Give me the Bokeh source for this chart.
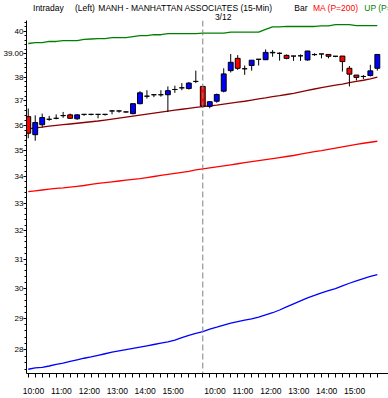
from bokeh.plotting import figure
from bokeh.layouts import column
from bokeh.models import FixedTicker, Span, Range1d, ColumnDataSource, BasicTickFormatter
from bokeh.core.properties import value
from bokeh.embed import file_html
from bokeh.resources import INLINE

# ---- data (15-min bars, two sessions) ----
opens = [36.36, 35.63, 36.03, 36.25, 36.29, 36.40, 36.43, 36.27, 36.45, 36.45, 36.45, 36.45, 36.59,
         36.59, 36.55, 36.48, 36.89, 37.20, 37.26, 37.26, 37.26, 37.48, 37.55, 37.52, 37.82, 37.61,
         36.78, 36.99, 37.41, 38.28, 38.81, 38.36, 38.50, 38.77, 38.75, 39.05, 39.03, 38.94, 38.91,
         38.92, 38.74, 38.97, 39.00, 38.98, 38.90, 38.91, 38.38, 38.09, 38.03, 38.07, 38.38]
highs = [36.69, 36.41, 36.48, 36.39, 36.45, 36.55, 36.48, 36.45, 36.45, 36.47, 36.45, 36.46, 36.62,
         36.60, 36.56, 36.89, 37.41, 37.45, 37.27, 37.45, 37.61, 37.64, 37.75, 37.79, 38.28, 37.63,
         36.99, 37.31, 38.38, 39.00, 38.95, 38.50, 38.73, 38.77, 39.20, 39.17, 39.07, 38.98, 38.91,
         38.98, 39.14, 39.03, 39.00, 38.98, 38.90, 38.91, 38.48, 38.09, 38.09, 38.53, 38.98]
lows = [35.49, 35.39, 35.92, 36.19, 36.25, 36.31, 36.28, 36.23, 36.39, 36.41, 36.29, 36.40, 36.45,
        36.52, 36.52, 36.45, 36.86, 37.10, 37.16, 37.18, 36.55, 37.34, 37.45, 37.48, 37.75, 36.73,
        36.70, 36.93, 37.36, 38.20, 38.31, 38.10, 38.28, 38.50, 38.75, 38.88, 38.71, 38.77, 38.70,
        38.70, 38.71, 38.92, 38.81, 38.81, 38.86, 38.24, 37.61, 37.86, 37.92, 38.03, 38.28]
closes = [35.69, 36.12, 36.32, 36.25, 36.29, 36.40, 36.29, 36.43, 36.45, 36.45, 36.45, 36.45, 36.59,
          36.59, 36.55, 36.89, 37.34, 37.20, 37.26, 37.26, 37.43, 37.48, 37.55, 37.75, 37.82, 36.79,
          36.97, 37.27, 38.14, 38.64, 38.38, 38.36, 38.73, 38.77, 39.07, 39.07, 39.03, 38.81, 38.91,
          38.92, 39.13, 38.98, 39.00, 38.90, 38.90, 38.67, 38.13, 37.99, 38.03, 38.27, 38.98]

ma_short = [35.86, 35.90, 35.93, 35.97, 36.00, 36.03, 36.06, 36.09, 36.12, 36.15, 36.18, 36.22, 36.26,
            36.30, 36.34, 36.38, 36.42, 36.46, 36.50, 36.54, 36.58, 36.62, 36.66, 36.70, 36.74, 36.77,
            36.80, 36.83, 36.87, 36.91, 36.95, 36.99, 37.04, 37.09, 37.13, 37.18, 37.22, 37.27, 37.32,
            37.38, 37.44, 37.50, 37.56, 37.61, 37.66, 37.71, 37.77, 37.82, 37.87, 37.93, 38.00]
up_band = [39.46, 39.50, 39.50, 39.55, 39.55, 39.59, 39.59, 39.59, 39.64, 39.66, 39.68, 39.68, 39.72,
           39.72, 39.72, 39.77, 39.81, 39.81, 39.85, 39.85, 39.90, 39.90, 39.90, 39.90, 39.90, 39.92,
           39.92, 39.92, 39.92, 39.97, 39.97, 39.97, 39.97, 39.97, 40.09, 40.20, 40.20, 40.22, 40.22,
           40.22, 40.22, 40.22, 40.25, 40.25, 40.30, 40.30, 40.30, 40.26, 40.26, 40.26, 40.26]
ma200 = [33.43, 33.46, 33.49, 33.52, 33.55, 33.57, 33.60, 33.63, 33.66, 33.70, 33.74, 33.77, 33.80,
         33.83, 33.86, 33.89, 33.92, 33.96, 34.00, 34.04, 34.08, 34.12, 34.16, 34.20, 34.25, 34.29,
         34.33, 34.37, 34.41, 34.45, 34.49, 34.53, 34.57, 34.61, 34.65, 34.69, 34.73, 34.77, 34.81,
         34.86, 34.91, 34.96, 35.00, 35.05, 35.10, 35.15, 35.20, 35.25, 35.29, 35.33, 35.37]
low_band = [27.40, 27.44, 27.46, 27.50, 27.55, 27.59, 27.64, 27.69, 27.74, 27.78, 27.83, 27.88, 27.93,
            27.97, 28.01, 28.05, 28.09, 28.13, 28.17, 28.21, 28.25, 28.31, 28.39, 28.46, 28.52, 28.58,
            28.66, 28.72, 28.79, 28.85, 28.90, 28.95, 28.99, 29.05, 29.12, 29.19, 29.28, 29.38, 29.48,
            29.58, 29.68, 29.76, 29.85, 29.92, 29.99, 30.08, 30.17, 30.25, 30.33, 30.40, 30.46]

session_bars = [26, 25]          # bars in each session, starting 9:30
session_start_min = 9 * 60 + 30
day_break_index = 25
day_break_label = "3/12"
y_ticks = [28, 29, 30, 31, 32, 33, 34, 35, 36, 37, 38, 39, 40]
y_tick_labels = ["28", "29", "30", "31", "32", "33", "34", "35", "36", "37", "38", "39.00", "40"]

header_texts = ["Intraday", "(Left)", "MANH - MANHATTAN ASSOCIATES  (15-Min)", "Bar", "MA (P=200)", "UP (P=200)"]
header_colors = ["black", "black", "black", "black", "#ff0000", "#008000"]

# ---- derived ----
times = []
for nb in session_bars:
    times += [session_start_min + 15 * k for k in range(nb)]
idx = list(range(len(opens)))
hour_idx = [i for i, t in enumerate(times) if t % 60 == 0]
hour_lbl = ["%d:00" % (times[i] // 60) for i in hour_idx]

body_top = [max(o, c) for o, c in zip(opens, closes)]
body_bot = [min(o, c) for o, c in zip(opens, closes)]
body_col = ["#ff0000" if c < o else "#0000ff" for o, c in zip(opens, closes)]

src = ColumnDataSource(dict(x=idx, hi=highs, lo=lows, top=body_top, bot=body_bot, col=body_col,
                            ma=ma_short, up=up_band, ma200=ma200, lb=low_band))

FONT = "Liberation Sans"
FS = "8.5px"
W = 388
HEAD_H = 20
X0, X1 = -0.25, 51.6
LEFT = 25

# ---- main chart ----
p = figure(width=W, height=398 - HEAD_H, x_range=Range1d(X0, X1), y_range=Range1d(27.27, 40.49),
           y_axis_type="log", output_backend="svg", toolbar_location=None,
           min_border_left=LEFT, min_border_right=0, min_border_top=0, min_border_bottom=21)
p.grid.visible = False
p.outline_line_color = None
p.background_fill_color = "white"
p.border_fill_color = "white"

p.line("x", "up", source=src, line_color="#008000", line_width=1.3)
p.line("x", "ma200", source=src, line_color="#ff0000", line_width=1.3)
p.line("x", "lb", source=src, line_color="#0000ff", line_width=1.3)
p.line("x", "ma", source=src, line_color="#8b0000", line_width=1.3)

p.add_layout(Span(location=day_break_index, dimension="height", line_color="#808080",
                  line_dash="6 3", line_width=1))

p.segment("x", "lo", "x", "hi", source=src, line_color="black", line_width=1)
p.vbar(x="x", width=0.7, top="top", bottom="bot", source=src, fill_color="col",
       line_color="black", line_width=1)

ya = p.yaxis[0]
minor = [round(28 + 0.2 * k, 1) for k in range(-4, 63)]
ya.ticker = FixedTicker(ticks=y_ticks, minor_ticks=minor)
ya.formatter = BasicTickFormatter()
ya.major_label_overrides = {t: l for t, l in zip(y_ticks, y_tick_labels)}
ya.major_tick_out = 3
ya.major_tick_in = 0
ya.minor_tick_out = 2
ya.minor_tick_in = 0
ya.major_label_standoff = 0
ya.major_label_text_font = FONT
ya.major_label_text_font_size = "8px"
ya.major_label_text_color = "black"
ya.axis_line_color = "black"

xa = p.xaxis[0]
label_pos = [i - 1.25 for i in hour_idx]
xa.ticker = FixedTicker(ticks=label_pos, minor_ticks=idx)
xa.major_label_overrides = {pos: l for pos, l in zip(label_pos, hour_lbl)}
xa.major_tick_out = 0
xa.major_tick_in = 0
xa.minor_tick_out = 4
xa.minor_tick_in = 0
xa.major_label_standoff = 8
xa.major_label_text_font = FONT
xa.major_label_text_font_size = FS
xa.major_label_text_color = "black"
xa.axis_line_color = "black"

# ---- header strip ----
h = figure(width=W, height=HEAD_H, x_range=Range1d(0, W), y_range=Range1d(HEAD_H, 0),
           output_backend="svg", toolbar_location=None,
           min_border=0, min_border_left=0, min_border_right=0, min_border_top=0, min_border_bottom=0)
h.axis.visible = False
h.grid.visible = False
h.outline_line_color = None
h.background_fill_color = "white"
h.border_fill_color = "white"
head_x = [7, 52, 77, 287, 307, 362]
hsrc = ColumnDataSource(dict(x=head_x, y=[2] * len(head_x), t=header_texts, c=header_colors))
h.text(x="x", y="y", text="t", text_color="c", source=hsrc, text_font=value(FONT),
       text_font_size=FS, text_baseline="top", text_align="left")
frame_w = W - LEFT
sep_px = LEFT + (day_break_index - X0) / (X1 - X0) * frame_w
h.text(x=[sep_px + 9], y=[11], text=[day_break_label], text_color="black", text_font=value(FONT),
       text_font_size=FS, text_baseline="top", text_align="center")

layout = column(h, p, spacing=0)
open("out.html", "w").write(file_html(layout, INLINE))
